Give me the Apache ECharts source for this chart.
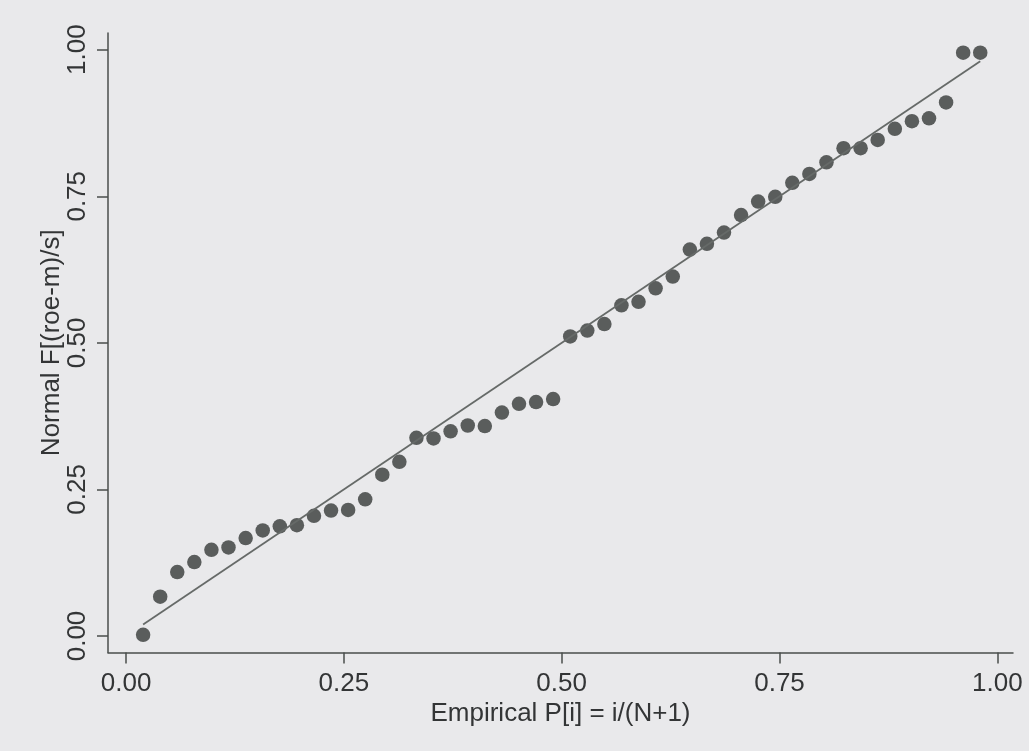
<!DOCTYPE html>
<html>
<head>
<meta charset="utf-8">
<script src="https://cdn.jsdelivr.net/npm/echarts@6/dist/echarts.min.js"></script>
<style>
html,body{margin:0;padding:0;background:#e9e9eb;}
#chart{width:1029px;height:751px;}
</style>
</head>
<body>
<div id="chart"></div>
<script>
// Empirical P[i] = i/(N+1), N = 50
const empiricalP = [0.0196,0.0392,0.0588,0.0784,0.0980,0.1176,0.1373,0.1569,0.1765,0.1961,
  0.2157,0.2353,0.2549,0.2745,0.2941,0.3137,0.3333,0.3529,0.3725,0.3922,
  0.4118,0.4314,0.4510,0.4706,0.4902,0.5098,0.5294,0.5490,0.5686,0.5882,
  0.6078,0.6275,0.6471,0.6667,0.6863,0.7059,0.7255,0.7451,0.7647,0.7843,
  0.8039,0.8235,0.8431,0.8627,0.8824,0.9020,0.9216,0.9412,0.9608,0.9804];
// Normal F[(roe-m)/s]
const normalF = [0.002,0.067,0.109,0.126,0.147,0.151,0.167,0.180,0.187,0.189,
  0.205,0.214,0.215,0.233,0.275,0.297,0.338,0.337,0.349,0.359,
  0.358,0.381,0.396,0.399,0.404,0.511,0.521,0.532,0.564,0.570,
  0.593,0.613,0.659,0.669,0.688,0.718,0.741,0.749,0.773,0.788,
  0.808,0.832,0.832,0.846,0.865,0.878,0.883,0.910,0.995,0.995];
// Reference line (diagonal)
const refX = [0.0196, 0.9804];
const refY = [0.0196, 0.9804];
const xTicks = [0, 0.25, 0.5, 0.75, 1];
const yTicks = [0, 0.25, 0.5, 0.75, 1];
const xTitle = 'Empirical P[i] = i/(N+1)';
const yTitle = 'Normal F[(roe-m)/s]';

const font = '"Liberation Sans", Arial, Helvetica, sans-serif';
const axisColor = '#4a4e4c';
const textColor = '#333536';

const chart = echarts.init(document.getElementById('chart'));
chart.setOption({
  backgroundColor: '#e9e9eb',
  animation: false,
  grid: {left: 108, right: 16, top: 33, bottom: 98.5, containLabel: false},
  xAxis: {
    type: 'value', min: -0.0207, max: 1.018,
    name: xTitle, nameLocation: 'middle', nameGap: 48, nameMoveOverlap: false,
    nameTextStyle: {fontFamily: font, fontSize: 26, color: textColor},
    axisLine: {show: true, onZero: false, lineStyle: {color: axisColor, width: 1.5}},
    axisTick: {show: true, length: 11, customValues: xTicks, lineStyle: {color: axisColor, width: 1.5}},
    axisLabel: {customValues: xTicks, margin: 18, fontFamily: font, fontSize: 26, color: textColor,
      formatter: v => v.toFixed(2)},
    splitLine: {show: false}
  },
  yAxis: {
    type: 'value', min: -0.0282, max: 1.0285,
    name: yTitle, nameLocation: 'middle', nameGap: 43, nameMoveOverlap: false,
    nameTextStyle: {fontFamily: font, fontSize: 26, color: textColor},
    axisLine: {show: true, onZero: false, lineStyle: {color: axisColor, width: 1.5}},
    axisTick: {show: true, length: 11, customValues: yTicks, lineStyle: {color: axisColor, width: 1.5}},
    axisLabel: {customValues: yTicks, rotate: 90, margin: 17, fontFamily: font, fontSize: 26, color: textColor,
      formatter: v => v.toFixed(2)},
    splitLine: {show: false}
  },
  series: [
    {
      type: 'scatter',
      data: empiricalP.map((x, i) => [x, normalF[i]]),
      symbol: 'circle', symbolSize: 14.5,
      itemStyle: {color: '#363a38'},
      z: 2
    },
    {
      type: 'line',
      data: refX.map((x, i) => [x, refY[i]]),
      showSymbol: false, symbol: 'none',
      lineStyle: {color: '#666a68', width: 1.8},
      z: 3
    }
  ]
});
</script>
</body>
</html>
